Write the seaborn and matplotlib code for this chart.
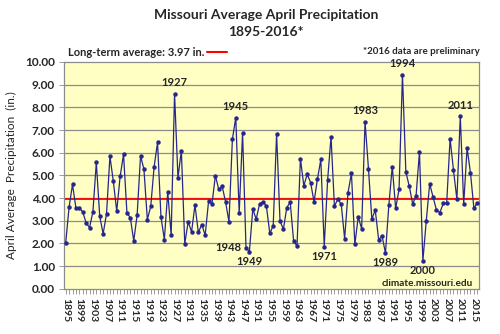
import matplotlib
matplotlib.use("Agg")
import matplotlib.pyplot as plt
import seaborn as sns
import pandas as pd
import numpy as np

years = list(range(1895, 2017))
precip = [
    2.03, 3.60, 4.60, 3.57, 3.57, 3.39, 2.91, 2.69, 3.39, 5.57,
    3.20, 2.42, 3.30, 5.84, 4.74, 3.42, 4.95, 5.93, 3.35, 3.13,
    2.11, 3.25, 5.86, 5.27, 3.05, 3.63, 5.39, 6.45, 3.17, 2.17,
    4.27, 2.36, 8.60, 4.90, 6.09, 1.98, 2.95, 2.51, 3.69, 2.48,
    2.83, 2.36, 3.86, 3.73, 4.99, 4.38, 4.51, 3.83, 2.95, 6.59,
    7.55, 3.33, 6.87, 1.81, 1.63, 3.51, 3.07, 3.74, 3.83, 3.64,
    2.44, 2.78, 6.84, 2.98, 2.63, 3.58, 3.82, 2.10, 1.88, 5.74,
    4.54, 5.05, 4.68, 3.83, 4.83, 5.70, 1.86, 4.80, 6.70, 3.64,
    3.95, 3.73, 2.20, 4.24, 5.10, 1.95, 3.17, 2.64, 7.37, 5.30,
    3.07, 3.47, 2.16, 2.33, 1.57, 3.69, 5.39, 3.54, 4.38, 9.44,
    5.15, 4.52, 3.74, 4.10, 6.04, 1.22, 3.00, 4.63, 4.04, 3.47,
    3.36, 3.76, 3.77, 6.62, 5.23, 3.94, 7.61, 3.73, 6.21, 5.10,
    3.54, 3.80,
]
long_term_avg = 3.97
ytick_values = [0, 1, 2, 3, 4, 5, 6, 7, 8, 9, 10]
xtick_years = list(range(1895, 2016, 4))
labeled_years_above = [1927, 1945, 1983, 1994, 2011]
labeled_years_below = [1949, 1971, 1989, 2000]
labeled_years_left = [1948]

df = pd.DataFrame({"year": years, "precip": precip})

sns.set_style("white")
plt.rcParams["font.family"] = ["Lato", "DejaVu Sans"]

fig = plt.figure(figsize=(5.0, 3.34), dpi=100)
ax = fig.add_axes([64 / 500, 1 - 288.7 / 334, 415 / 500, (288.7 - 62) / 334])
ax.set_facecolor("#FFFFC4")

navy = "#26268C"
ax.axhline(long_term_avg, color="#FF0000", lw=1.3, zorder=2)
for v in ytick_values[1:-1]:
    ax.axhline(v, color="#8C8C8C", lw=0.9, zorder=1)

sns.lineplot(data=df, x="year", y="precip", ax=ax, color=navy, lw=0.9,
             marker="o", markersize=3.2, markeredgewidth=0, zorder=3)

ax.set_xlim(1894.5, 2016.5)
ax.set_ylim(0, 10)
ax.set_xlabel("")
ax.set_ylabel("April Average  Precipitation  (in.)", fontsize=8.5, labelpad=6)
ax.set_yticks(ytick_values)
ax.set_yticklabels([f"{v:.2f}" for v in ytick_values], fontsize=8.5, fontweight="bold")
ax.set_xticks(xtick_years)
ax.set_xticklabels([str(y) for y in xtick_years], rotation=270, fontsize=7.5,
                   fontweight="bold", va="top", ha="center")
ax.set_xticks(years, minor=True)
ax.tick_params(axis="x", which="both", direction="out", length=3.5, width=0.6,
               color="#8C8C8C", pad=3, bottom=True)
ax.tick_params(axis="y", which="major", direction="out", length=3.5, width=0.6,
               color="#8C8C8C", pad=3, left=True)
for s in ax.spines.values():
    s.set_color("#8C8C8C")
    s.set_linewidth(0.9)

lookup = dict(zip(years, precip))
for y in labeled_years_above:
    ax.annotate(str(y), (y, lookup[y]), xytext=(0, 4), textcoords="offset points",
                ha="center", va="bottom", fontsize=8, fontweight="bold")
for y in labeled_years_below:
    ax.annotate(str(y), (y, lookup[y]), xytext=(0, -3), textcoords="offset points",
                ha="center", va="top", fontsize=8, fontweight="bold")
for y in labeled_years_left:
    ax.annotate(str(y), (y, lookup[y]), xytext=(-3, 0), textcoords="offset points",
                ha="right", va="center", fontsize=8, fontweight="bold")

ax.text(0.985, 0.024, "climate.missouri.edu", transform=ax.transAxes,
        ha="right", va="center", fontsize=7.2, fontweight="bold")

fig.text(266 / 500, 1 - 15 / 334, "Missouri Average April Precipitation",
         ha="center", va="center", fontsize=10, fontweight="bold")
fig.text(266 / 500, 1 - 32 / 334, "1895-2016*",
         ha="center", va="center", fontsize=10, fontweight="bold")
fig.text(68 / 500, 1 - 52 / 334, "Long-term average: 3.97 in.",
         ha="left", va="center", fontsize=8, fontweight="bold")
fig.add_artist(plt.Line2D([207 / 500, 227 / 500], [1 - 52 / 334, 1 - 52 / 334],
                          color="#FF0000", lw=1.5, transform=fig.transFigure))
fig.text(480 / 500, 1 - 52 / 334, "*2016 data are preliminary",
         ha="right", va="center", fontsize=7, fontweight="bold")

fig.savefig("out.png", dpi=100, facecolor="white")
